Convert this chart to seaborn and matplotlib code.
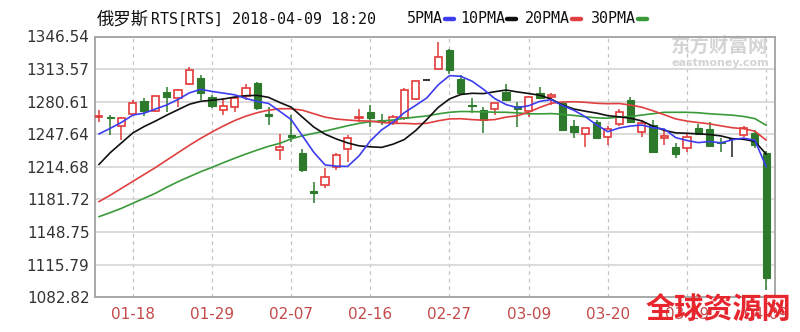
import numpy as np
import pandas as pd
import matplotlib
matplotlib.use("Agg")
import matplotlib.pyplot as plt
from matplotlib.lines import Line2D
import seaborn as sns

# ---------------- data ----------------
dates = ["01-15", "01-16", "01-17", "01-18", "01-19", "01-22", "01-23", "01-24", "01-25", "01-26",
         "01-29", "01-30", "01-31", "02-01", "02-02", "02-05", "02-06", "02-07", "02-08", "02-09",
         "02-12", "02-13", "02-14", "02-15", "02-16", "02-19", "02-20", "02-21", "02-22", "02-23",
         "02-26", "02-27", "02-28", "03-01", "03-02", "03-05", "03-06", "03-07", "03-09", "03-12",
         "03-13", "03-14", "03-15", "03-16", "03-19", "03-20", "03-21", "03-22", "03-23", "03-26",
         "03-27", "03-28", "03-29", "03-30", "04-02", "04-03", "04-04", "04-05", "04-06", "04-09"]

open_ = [1265.0, 1265.5, 1256.3, 1267.8, 1281.6, 1271.2, 1290.7, 1284.6, 1298.5, 1304.2,
         1285.0, 1272.2, 1275.5, 1286.3, 1299.1, 1267.8, 1231.5, 1246.9, 1228.4, 1190.3,
         1196.3, 1214.9, 1232.7, 1263.7, 1269.8, 1262.0, 1259.7, 1263.7, 1283.5, 1302.5,
         1313.6, 1332.8, 1303.2, 1277.7, 1272.2, 1273.2, 1290.7, 1276.2, 1271.2, 1289.0,
         1285.0, 1278.9, 1256.3, 1247.6, 1260.4, 1245.2, 1257.7, 1282.3, 1250.3, 1257.0,
         1243.5, 1235.1, 1233.4, 1254.3, 1252.6, 1240.2, 1243.0, 1246.9, 1248.6, 1229.0]
high = [1272.2, 1267.0, 1265.0, 1282.3, 1284.6, 1286.8, 1295.1, 1293.0, 1315.3, 1307.6,
        1287.3, 1284.0, 1285.7, 1298.1, 1300.8, 1275.5, 1247.6, 1267.1, 1232.7, 1199.7,
        1213.9, 1228.4, 1246.9, 1273.2, 1277.2, 1267.8, 1267.1, 1294.1, 1301.8, 1302.5,
        1341.3, 1333.5, 1307.6, 1284.0, 1275.5, 1279.5, 1298.1, 1280.6, 1286.2, 1295.8,
        1289.0, 1280.6, 1262.1, 1254.3, 1262.1, 1256.3, 1273.2, 1285.7, 1262.1, 1262.1,
        1252.0, 1238.5, 1248.6, 1257.7, 1260.4, 1243.5, 1243.0, 1256.3, 1252.0, 1231.0]
low = [1259.7, 1247.0, 1241.8, 1267.1, 1266.4, 1270.0, 1270.5, 1275.5, 1298.0, 1282.3,
       1273.9, 1267.1, 1270.5, 1282.3, 1272.2, 1257.0, 1221.6, 1240.2, 1209.8, 1177.8,
       1193.0, 1211.5, 1219.9, 1259.7, 1255.3, 1257.0, 1257.0, 1262.0, 1282.3, 1302.5,
       1313.6, 1308.6, 1288.0, 1268.8, 1248.6, 1267.1, 1281.6, 1255.3, 1265.4, 1284.0,
       1277.2, 1251.0, 1244.2, 1235.1, 1242.9, 1236.8, 1256.3, 1258.7, 1245.2, 1228.4,
       1236.8, 1223.3, 1230.1, 1246.9, 1235.1, 1230.1, 1225.0, 1245.2, 1233.4, 1090.2]
close = [1266.0, 1264.5, 1264.4, 1279.6, 1271.2, 1286.3, 1285.0, 1292.4, 1312.6, 1289.0,
         1276.2, 1276.2, 1284.0, 1294.1, 1273.9, 1266.5, 1234.5, 1245.2, 1211.5, 1188.6,
         1204.8, 1226.7, 1244.2, 1264.7, 1264.4, 1260.5, 1265.4, 1292.4, 1301.5, 1302.5,
         1326.1, 1312.6, 1289.0, 1276.2, 1262.1, 1278.9, 1282.3, 1273.5, 1285.7, 1284.6,
         1287.5, 1252.0, 1249.6, 1253.6, 1243.5, 1252.6, 1270.5, 1259.7, 1258.7, 1230.1,
         1245.5, 1227.4, 1245.2, 1247.9, 1236.1, 1238.5, 1243.0, 1253.6, 1236.8, 1102.0]

ma5 = [1248.0, 1253.6, 1259.7, 1267.1, 1269.0, 1273.2, 1277.3, 1282.9, 1289.5, 1293.1,
       1291.0, 1289.3, 1287.6, 1283.9, 1280.9, 1278.9, 1270.8, 1262.6, 1246.1, 1229.5,
       1216.7, 1215.4, 1215.2, 1225.8, 1241.0, 1252.1, 1259.8, 1269.5, 1276.8, 1284.5,
       1297.6, 1307.0, 1306.3, 1301.3, 1293.2, 1283.8, 1277.7, 1274.6, 1276.5, 1281.0,
       1282.7, 1276.7, 1271.9, 1265.5, 1257.2, 1250.3, 1254.0, 1256.0, 1257.0, 1254.3,
       1252.9, 1244.3, 1241.4, 1239.2, 1240.4, 1239.0, 1242.1, 1243.8, 1241.6, 1214.8]
ma10 = [1217.0, 1229.0, 1239.0, 1249.0, 1255.5, 1261.0, 1267.0, 1272.5, 1278.0, 1281.0,
        1282.1, 1283.3, 1285.3, 1286.7, 1287.0, 1285.0, 1279.8, 1275.1, 1265.0, 1255.0,
        1247.8, 1242.9, 1238.9, 1236.0, 1235.0, 1234.4, 1237.6, 1242.3, 1251.3, 1262.7,
        1274.8, 1283.4, 1287.9, 1289.1, 1288.8, 1290.7, 1292.4, 1290.5, 1288.9, 1287.1,
        1283.2, 1277.2, 1273.2, 1271.0, 1269.1, 1266.5, 1265.3, 1263.9, 1261.2, 1255.8,
        1251.6, 1249.1, 1248.7, 1248.1, 1247.4, 1246.0, 1243.2, 1242.6, 1240.4, 1227.6]
ma20 = [1179.5, 1186.0, 1193.0, 1200.0, 1207.0, 1214.0, 1221.5, 1229.0, 1236.5, 1243.5,
        1250.0, 1256.0, 1261.5, 1266.0, 1269.5, 1272.0, 1273.5, 1273.5, 1272.0, 1268.5,
        1265.0, 1263.1, 1262.1, 1261.3, 1261.0, 1259.7, 1258.7, 1258.7, 1258.2, 1258.8,
        1261.3, 1263.2, 1263.4, 1262.5, 1261.9, 1262.5, 1265.0, 1266.4, 1270.1, 1274.9,
        1279.0, 1280.3, 1280.6, 1280.0, 1279.0, 1278.6, 1278.8, 1277.2, 1275.1, 1271.4,
        1267.4, 1263.2, 1261.0, 1259.5, 1258.2, 1256.2, 1254.3, 1253.3, 1250.8, 1241.7]
ma30 = [1164.3, 1168.4, 1172.8, 1177.9, 1182.9, 1188.0, 1194.1, 1199.7, 1204.8, 1209.8,
        1214.2, 1218.9, 1223.4, 1227.7, 1231.7, 1235.5, 1238.5, 1243.0, 1246.2, 1248.6,
        1250.9, 1253.6, 1256.3, 1258.7, 1260.4, 1261.1, 1262.1, 1263.8, 1265.0, 1266.2,
        1268.3, 1269.9, 1270.7, 1270.6, 1270.3, 1270.0, 1269.9, 1269.3, 1268.4, 1268.3,
        1268.6, 1267.8, 1266.7, 1265.3, 1264.3, 1263.9, 1265.1, 1265.6, 1267.1, 1268.5,
        1269.9, 1269.9, 1269.9, 1269.4, 1268.4, 1267.7, 1267.0, 1265.7, 1263.5, 1256.8]

ma_names = ["5PMA", "10PMA", "20PMA", "30PMA"]
y_ticks = [1082.82, 1115.79, 1148.75, 1181.72, 1214.68, 1247.64, 1280.61, 1313.57, 1346.54]
x_tick_labels = ["01-18", "01-29", "02-07", "02-16", "02-27", "03-09", "03-20", "03-29", "04-09"]
title_cn = "俄罗斯"
title_rest = "RTS[RTS] 2018-04-09 18:20"
watermark_cn = "东方财富网"
watermark_en = "eastmoney.com"
watermark_red = "全球资源网"

# ---------------- style ----------------
UP = "#e23a3a"
DOWN = "#2d7a2d"
FLAT = "#222222"
ma_colors = ["#3d3df0", "#111111", "#e04040", "#3a9a3a"]

sns.set_theme(style="white")
plt.rcParams["font.family"] = ["DejaVu Sans", "Noto Sans CJK SC"]

fig = plt.figure(figsize=(8, 3.32), dpi=100)
ax = fig.add_axes([95 / 800, 1 - 297.3 / 332, 680 / 800, 260.8 / 332])

idx = np.arange(len(dates))
o = np.array(open_)
c = np.array(close)
h = np.array(high)
l = np.array(low)
up = c > o
down = c < o
flat = c == o
cols = np.where(up, UP, np.where(down, DOWN, FLAT))

# wicks
ax.vlines(idx, l, h, colors=cols, linewidth=1.1, zorder=2)
bw = 0.64
bottom = np.minimum(o, c)
height = np.abs(c - o)
ax.bar(idx[up], height[up], bottom=bottom[up], width=bw, facecolor="white",
       edgecolor=UP, linewidth=1.2, zorder=3)
ax.bar(idx[down], height[down], bottom=bottom[down], width=bw, facecolor=DOWN,
       edgecolor=DOWN, linewidth=0.8, zorder=3)
ax.hlines(c[flat], idx[flat] - bw / 2, idx[flat] + bw / 2, colors=FLAT, linewidth=1.3, zorder=3)

# moving averages
df = pd.DataFrame({
    "idx": np.tile(idx, 4),
    "value": np.concatenate([ma5, ma10, ma20, ma30]),
    "ma": np.repeat(ma_names, len(idx)),
})
sns.lineplot(data=df, x="idx", y="value", hue="ma", hue_order=ma_names[::-1],
             palette=dict(zip(ma_names, ma_colors)), linewidth=1.2, legend=False,
             ax=ax, zorder=4)

# axes
ax.set_xlim(-0.34, 59.78)
ax.set_ylim(y_ticks[0], y_ticks[-1])
ax.set_yticks(y_ticks)
ax.set_yticklabels([f"{v:.2f}" for v in y_ticks], fontsize=11, color="#333333")
xt = [dates.index(t) for t in x_tick_labels]
ax.set_xticks(xt)
ax.set_xticklabels(x_tick_labels, fontsize=11, color="#c44a4a")
ax.set_xlabel("")
ax.set_ylabel("")
ax.tick_params(axis="both", length=0)
ax.tick_params(axis="y", pad=4)
ax.tick_params(axis="x", pad=7)
ax.yaxis.grid(True, color="#d6d6d6", linewidth=1.2, linestyle="-")
ax.xaxis.grid(True, color="#c4c4c4", linewidth=0.9, linestyle=(0, (3, 3)))
ax.set_axisbelow(True)
for s in ax.spines.values():
    s.set_visible(True)
    s.set_color("#a8a8a8")
    s.set_linewidth(1.4)

# title
fig.text(97 / 800, 1 - 19.5 / 332, title_cn, fontsize=12.5, family="Noto Sans CJK SC",
         va="center", ha="left", color="#111111")
fig.text(151 / 800, 1 - 19.5 / 332, title_rest, fontsize=10.8, family="DejaVu Sans Mono",
         va="center", ha="left", color="#111111")

# legend row
leg_x = [407, 460, 525, 591]
for name, col, x0 in zip(ma_names, ma_colors, leg_x):
    fig.text(x0 / 800, 1 - 18.5 / 332, name, fontsize=10.8, family="DejaVu Sans Mono",
             va="center", ha="left", color="#111111")
    w = 9.0 * len(name)
    fig.add_artist(Line2D([(x0 + w + 2) / 800, (x0 + w + 11) / 800],
                          [1 - 19 / 332, 1 - 19 / 332], color=col, linewidth=3.2,
                          transform=fig.transFigure))

# watermarks
ax.text(720 / 800, 1 - 46 / 332, watermark_cn, transform=fig.transFigure, fontsize=14,
        family="Noto Sans CJK SC", fontweight="bold", color="#d4d4d4", ha="center",
        va="center", zorder=1)
ax.text(720 / 800, 1 - 63 / 332, watermark_en, transform=fig.transFigure, fontsize=8,
        fontweight="bold", color="#d4d4d4", ha="center", va="center", zorder=1)
fig.text(718 / 800, 1 - 309 / 332, watermark_red, fontsize=21, family="Noto Sans CJK SC",
         fontweight="bold", color="#e8262d", ha="center", va="center")

fig.savefig("out.png", dpi=100, facecolor="white")
